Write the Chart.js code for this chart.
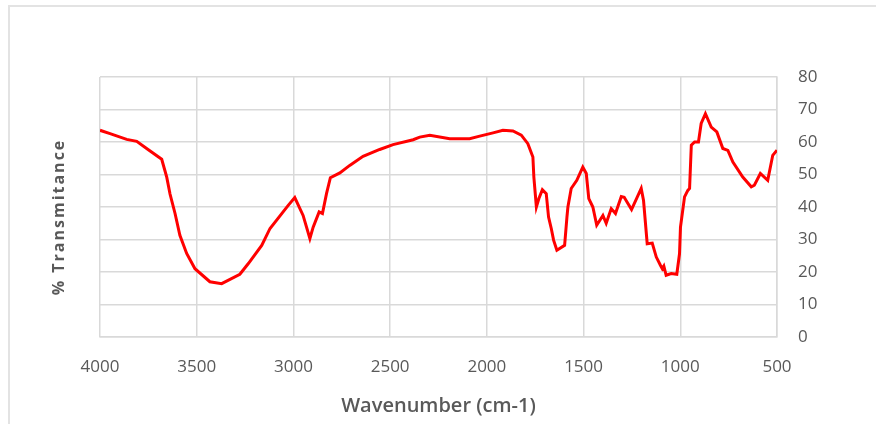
<!DOCTYPE html>
<html>
<head>
<meta charset="utf-8">
<script src="https://cdn.jsdelivr.net/npm/chart.js@4/dist/chart.umd.min.js"></script>
<style>
  body { margin: 0; background: #fff; }
  #wrap { position: relative; width: 876px; height: 424px; overflow: hidden; }
  #frame { position: absolute; left: 8px; top: 5px; right: -10px; bottom: -10px;
           border-left: 2px solid #e3e3e3; border-top: 2px solid #e3e3e3; }
  canvas { position: absolute; left: 0; top: 0; }
</style>
</head>
<body>
<div id="wrap">
  <div id="frame"></div>
  <canvas id="irChart" width="876" height="424"></canvas>
</div>
<script>
// spectrum
const wavenumbers = [
  4000, 3948, 3862, 3810, 3759, 3681, 3655, 3638, 3612, 3587,
  3552, 3509, 3432, 3371, 3277, 3233, 3164, 3121, 3027, 2993,
  2950, 2915, 2898, 2867, 2850, 2829, 2809, 2760, 2709, 2640,
  2554, 2485, 2381, 2347, 2295, 2192, 2089, 2037, 1968, 1917,
  1865, 1822, 1788, 1762, 1757, 1744, 1731, 1713, 1693, 1681,
  1667, 1655, 1638, 1598, 1586, 1581, 1564, 1535, 1504, 1486,
  1473, 1452, 1432, 1400, 1383, 1357, 1335, 1305, 1290, 1252,
  1202, 1190, 1171, 1145, 1124, 1102, 1093, 1085, 1073, 1047,
  1018, 1004, 999, 978, 961, 952, 943, 926, 906, 892,
  870, 840, 811, 780, 754, 728, 677, 633, 617, 586,
  548, 522, 500
];
const transmittance = [
  63.6, 62.6, 60.8, 60.2, 58.0, 54.7, 49.2, 44.0, 38.0, 31.3,
  25.7, 21.0, 17.0, 16.4, 19.3, 22.6, 28.2, 33.4, 40.5, 42.9,
  37.4, 30.3, 33.8, 38.5, 38.0, 44.1, 49.0, 50.5, 52.8, 55.6,
  57.7, 59.2, 60.7, 61.5, 62.1, 61.0, 61.0, 61.8, 62.8, 63.6,
  63.4, 62.1, 59.5, 55.4, 49.2, 40.0, 42.6, 45.3, 44.1, 36.9,
  33.4, 29.8, 26.7, 28.2, 36.9, 40.0, 45.7, 48.2, 52.3, 50.3,
  42.6, 40.0, 34.4, 37.4, 35.0, 39.5, 38.0, 43.2, 43.0, 39.2,
  45.7, 42.0, 28.7, 28.9, 24.6, 22.0, 21.0, 21.8, 19.0, 19.5,
  19.3, 25.6, 33.8, 43.1, 45.1, 45.7, 59.0, 60.0, 60.0, 65.7,
  68.7, 64.6, 63.1, 58.0, 57.4, 53.8, 49.2, 46.2, 46.7, 50.3,
  48.2, 55.9, 57.5
];
const xTitle = 'Wavenumber (cm-1)';
const yTitle = '% Transmitance';

const textColor = '#595959';
const gridColor = '#d9d9d9';
const fontFamily = '"Open Sans", "Liberation Sans", sans-serif';

const points = wavenumbers.map((w, i) => ({ x: w, y: transmittance[i] }));

// y title sits on the left while the y axis is on the right
const leftTitle = {
  id: 'leftTitle',
  afterDraw(chart) {
    const { ctx, chartArea } = chart;
    ctx.save();
    ctx.translate(59, (chartArea.top + chartArea.bottom) / 2 + 10);
    ctx.rotate(-Math.PI / 2);
    ctx.font = 'bold 16px ' + fontFamily;
    ctx.letterSpacing = '2px';
    ctx.fillStyle = textColor;
    ctx.textAlign = 'center';
    ctx.textBaseline = 'middle';
    ctx.fillText(yTitle, 0, 0);
    ctx.restore();
  }
};

new Chart(document.getElementById('irChart'), {
  type: 'line',
  data: {
    datasets: [{
      data: points,
      borderColor: '#ff0000',
      borderWidth: 3,
      pointRadius: 0,
      tension: 0,
      fill: false
    }]
  },
  options: {
    responsive: false,
    animation: false,
    layout: { padding: { left: 100, top: 77, right: 0, bottom: 0 } },
    plugins: {
      legend: { display: false },
      tooltip: { enabled: false }
    },
    scales: {
      x: {
        type: 'linear',
        reverse: true,
        min: 500,
        max: 4000,
        afterFit(scale) { scale.height = 87; },
        ticks: {
          stepSize: 500,
          padding: 20,
          color: textColor,
          font: { family: fontFamily, size: 17 },
          callback: (v) => String(v)
        },
        grid: { color: gridColor, lineWidth: 1.5, drawTicks: false },
        border: { color: gridColor, width: 1.5 },
        title: {
          display: true,
          text: xTitle,
          color: textColor,
          padding: { top: 0, bottom: 6 },
          font: { family: fontFamily, size: 20, weight: '600' }
        }
      },
      y: {
        position: 'right',
        min: 0,
        max: 80,
        afterFit(scale) { scale.width = 99; },
        ticks: {
          stepSize: 10,
          padding: 21,
          color: textColor,
          font: { family: fontFamily, size: 17 }
        },
        grid: { color: gridColor, lineWidth: 1.5, drawTicks: false },
        border: { color: gridColor, width: 1.5 }
      }
    }
  },
  plugins: [leftTitle]
});
</script>
</body>
</html>
